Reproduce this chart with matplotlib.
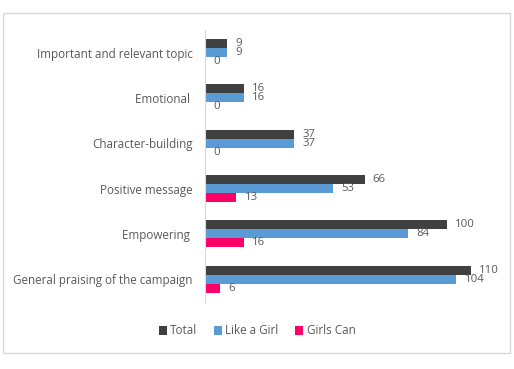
import matplotlib.pyplot as plt
import matplotlib.patches as mpatches
import numpy as np

plt.rcParams['font.family'] = ['Open Sans', 'DejaVu Sans']

# data, bottom category first
categories = ['General praising of the campaign', 'Empowering ', 'Positive message',
              'Character-building', 'Emotional ', 'Important and relevant topic']
total = [110, 100, 66, 37, 16, 9]
like_a_girl = [104, 84, 53, 37, 16, 9]
girls_can = [6, 16, 13, 0, 0, 0]

series_names = ['Total', 'Like a Girl', 'Girls Can']
colors = ['#404040', '#5B9BD5', '#FF0066']
text_col = '#595959'

fig = plt.figure(figsize=(5.14, 3.69), dpi=100)
ax = fig.add_axes([0.399, 0.182, 0.564, 0.737])

# chart border
fig.patches.append(mpatches.Rectangle((3 / 514, 1 - 353 / 369), 507 / 514, 340 / 369,
                                      transform=fig.transFigure, fill=False,
                                      edgecolor='#D9D9D9', linewidth=1))

y = np.arange(len(categories))
h = 0.2
offsets = [h, 0, -h]
for vals, off, col, name in zip([total, like_a_girl, girls_can], offsets, colors, series_names):
    bars = ax.barh(y + off, vals, height=h, color=col, label=name)
    ax.bar_label(bars, labels=[str(v) for v in vals], padding=6, fontsize=8.2, color=text_col)

ax.set_xlim(0, 120)
ax.set_ylim(-0.5, len(categories) - 0.5)
ax.set_yticks(y)
ax.set_yticklabels(categories, fontsize=8.4, color=text_col)
ax.tick_params(axis='y', length=0, pad=9)
ax.set_xticks([])
for s in ['top', 'right', 'bottom']:
    ax.spines[s].set_visible(False)
ax.spines['left'].set_color('#D9D9D9')

fig.legend(loc='center', bbox_to_anchor=(0.5, 1 - 331 / 369), ncol=3, frameon=False,
           fontsize=8.4, handlelength=0.7, handleheight=0.7, handletextpad=0.3,
           columnspacing=1.4, labelcolor=text_col)

fig.savefig('out.png', dpi=100)
